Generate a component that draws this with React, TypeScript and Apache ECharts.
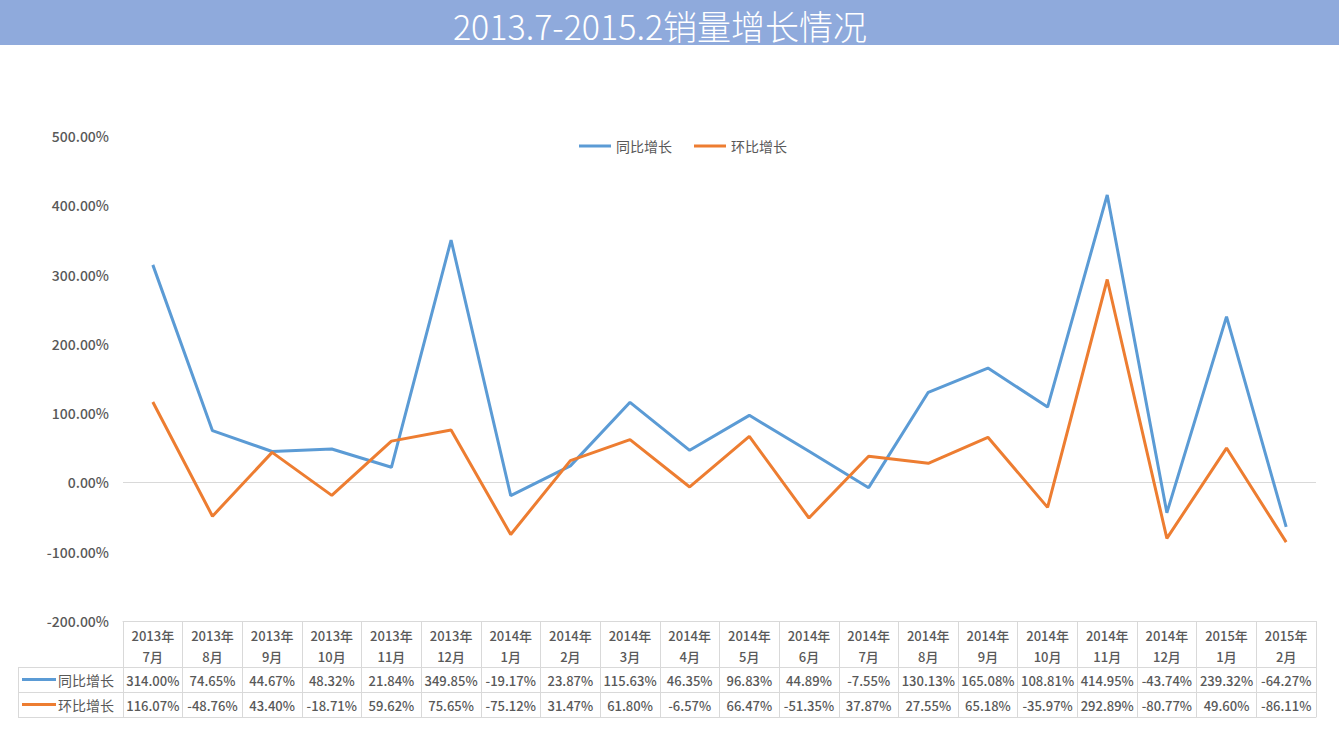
import React, { useEffect, useRef } from "react";
import * as echarts from "echarts";

const titleText = "2013.7-2015.2销量增长情况";
const seriesNames = ["同比增长", "环比增长"];
const categories = [
  "2013年\n7月", "2013年\n8月", "2013年\n9月", "2013年\n10月", "2013年\n11月",
  "2013年\n12月", "2014年\n1月", "2014年\n2月", "2014年\n3月", "2014年\n4月",
  "2014年\n5月", "2014年\n6月", "2014年\n7月", "2014年\n8月", "2014年\n9月",
  "2014年\n10月", "2014年\n11月", "2014年\n12月", "2015年\n1月", "2015年\n2月",
];
const yoy = [
  314.0, 74.65, 44.67, 48.32, 21.84, 349.85, -19.17, 23.87, 115.63, 46.35,
  96.83, 44.89, -7.55, 130.13, 165.08, 108.81, 414.95, -43.74, 239.32, -64.27,
];
const mom = [
  116.07, -48.76, 43.4, -18.71, 59.62, 75.65, -75.12, 31.47, 61.8, -6.57,
  66.47, -51.35, 37.87, 27.55, 65.18, -35.97, 292.89, -80.77, 49.6, -86.11,
];
const yMin = -200;
const yMax = 500;
const yStep = 100;

const BLUE = "#5B9BD5";
const ORANGE = "#ED7D31";
const TEXT = "#595959";
const BORDER = "#D9D9D9";
const FONT = "'Noto Sans CJK SC', sans-serif";
const W = 500;

const fmt = (v: number) => v.toFixed(2) + "%";

export default function App() {
  const ref = useRef<HTMLDivElement>(null);
  useEffect(() => {
    if (!ref.current) return;
    const chart = echarts.init(ref.current, undefined, { renderer: "svg" });
    const gridLeft = 123;
    const gridRight = 23;
    const gridTop = 136;
    const gridBottom = 115;
    const tableTop = 736 - gridBottom;
    const rowH = 25;
    const headH = 46;
    const row1 = tableTop + headH;
    const row2 = row1 + rowH;
    const row3 = row2 + rowH;

    const rowAxis = (data: string[], offset: number, showLabel: boolean) => ({
      type: "category",
      gridIndex: 0,
      position: "bottom",
      offset,
      data,
      boundaryGap: true,
      axisLine: { show: true, onZero: false, lineStyle: { color: BORDER, width: 1 } },
      axisTick: { show: false },
      splitLine: { show: false },
      axisLabel: {
        show: showLabel,
        interval: 0,
        margin: 5,
        color: TEXT,
        fontSize: 13,
        fontWeight: W,
        fontFamily: FONT,
        lineHeight: 16,
      },
    });

    chart.setOption({
      animation: false,
      backgroundColor: "#ffffff",
      textStyle: { fontFamily: FONT },
      grid: { left: gridLeft, right: gridRight, top: gridTop, bottom: gridBottom, containLabel: false },
      legend: {
        data: seriesNames,
        left: 574,
        top: 134,
        icon: "rect",
        itemWidth: 32,
        itemHeight: 3,
        itemGap: 22,
        textStyle: { color: TEXT, fontSize: 14, fontFamily: FONT },
      },
      xAxis: [
        {
          type: "category",
          data: categories,
          boundaryGap: true,
          position: "bottom",
          axisLine: { show: true, onZero: false, lineStyle: { color: BORDER, width: 1 } },
          axisTick: {
            show: true,
            interval: 0,
            length: headH + rowH * 2,
            lineStyle: { color: BORDER, width: 1 },
          },
          splitLine: { show: false },
          axisLabel: {
            interval: 0,
            margin: 4,
            color: TEXT,
            fontSize: 13,
            fontWeight: W,
            lineHeight: 21,
            fontFamily: FONT,
          },
        },
        rowAxis(yoy.map(fmt), headH, true),
        rowAxis(mom.map(fmt), headH + rowH, true),
        rowAxis(mom.map(fmt), headH + rowH * 2, false),
      ],
      yAxis: {
        type: "value",
        min: yMin,
        max: yMax,
        interval: yStep,
        axisLine: { show: false },
        axisTick: { show: false },
        splitLine: { show: false },
        axisLabel: {
          margin: 14,
          color: TEXT,
          fontSize: 14,
          fontWeight: W,
          fontFamily: FONT,
          formatter: (v: number) => fmt(v),
        },
      },
      series: [
        {
          name: seriesNames[0],
          type: "line",
          data: yoy,
          xAxisIndex: 0,
          symbol: "none",
          lineStyle: { color: BLUE, width: 3 },
          itemStyle: { color: BLUE },
          z: 3,
          markLine: {
            silent: true,
            symbol: "none",
            label: { show: false },
            lineStyle: { color: BORDER, width: 1, type: "solid" },
            data: [{ yAxis: 0 }],
            z: 1,
          },
        },
        {
          name: seriesNames[1],
          type: "line",
          data: mom,
          xAxisIndex: 0,
          symbol: "none",
          lineStyle: { color: ORANGE, width: 3 },
          itemStyle: { color: ORANGE },
          z: 4,
        },
      ],
      graphic: [
        {
          type: "rect",
          shape: { x: 0, y: 0, width: 1339, height: 45 },
          style: { fill: "#8FAADC" },
          silent: true,
        },
        {
          type: "text",
          x: 660,
          y: 25,
          style: {
            text: titleText,
            fill: "#ffffff",
            fontSize: 34,
            fontWeight: 300,
            fontFamily: "'Noto Sans CJK SC', sans-serif",
            align: "center",
            verticalAlign: "middle",
          },
        },
        { type: "line", shape: { x1: 18, y1: row1 + 0.5, x2: gridLeft, y2: row1 + 0.5 }, style: { stroke: BORDER, lineWidth: 1 } },
        { type: "line", shape: { x1: 18, y1: row2 + 0.5, x2: gridLeft, y2: row2 + 0.5 }, style: { stroke: BORDER, lineWidth: 1 } },
        { type: "line", shape: { x1: 18, y1: row3 + 0.5, x2: gridLeft, y2: row3 + 0.5 }, style: { stroke: BORDER, lineWidth: 1 } },
        { type: "line", shape: { x1: 18.5, y1: row1, x2: 18.5, y2: row3 }, style: { stroke: BORDER, lineWidth: 1 } },
        { type: "line", shape: { x1: 22, y1: row1 + rowH / 2, x2: 56, y2: row1 + rowH / 2 }, style: { stroke: BLUE, lineWidth: 3 } },
        { type: "line", shape: { x1: 22, y1: row2 + rowH / 2, x2: 56, y2: row2 + rowH / 2 }, style: { stroke: ORANGE, lineWidth: 3 } },
        {
          type: "text",
          x: 58,
          y: row1 + rowH / 2,
          style: { text: seriesNames[0], fill: TEXT, fontSize: 14, fontFamily: FONT, verticalAlign: "middle" },
        },
        {
          type: "text",
          x: 58,
          y: row2 + rowH / 2,
          style: { text: seriesNames[1], fill: TEXT, fontSize: 14, fontFamily: FONT, verticalAlign: "middle" },
        },
      ],
    });
    return () => chart.dispose();
  }, []);
  return (
    <div
      ref={ref}
      style={{ position: "absolute", left: 0, top: 0, width: 1339, height: 736, background: "#fff" }}
    />
  );
}
